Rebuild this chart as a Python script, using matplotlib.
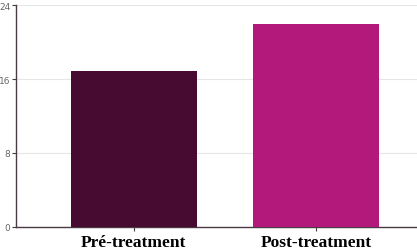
import matplotlib.pyplot as plt

labels = ['Pré-treatment', 'Post-treatment']
values = [16.9, 21.9]
colors = ['#470a30', '#b3197a']

fig = plt.figure(figsize=(4.17, 2.53), dpi=100)
ax = fig.add_axes([0.038, 0.099, 0.962, 0.877])

x = [0, 1]
ax.bar(x, values, width=0.69, color=colors, zorder=3)

ax.set_ylim(0, 24)
ax.set_yticks([0, 8, 16, 24])
ax.set_xlim(-0.648, 1.555)
ax.set_xticks(x)
ax.set_xticklabels(labels, family='Liberation Serif', fontweight='bold', fontsize=12.5)

ax.grid(axis='y', color='#e6e6e6', linewidth=0.8, zorder=0)
ax.spines['top'].set_visible(False)
ax.spines['right'].set_visible(False)
for s in ['left', 'bottom']:
    ax.spines[s].set_color('#4a3a45')
    ax.spines[s].set_linewidth(1)
ax.tick_params(axis='y', labelsize=6.5, labelcolor='#666666', color='#4a3a45', length=3, width=0.8, pad=1)
ax.tick_params(axis='x', length=3, color='#4a3a45', pad=2)

fig.savefig('out.png', dpi=100)
